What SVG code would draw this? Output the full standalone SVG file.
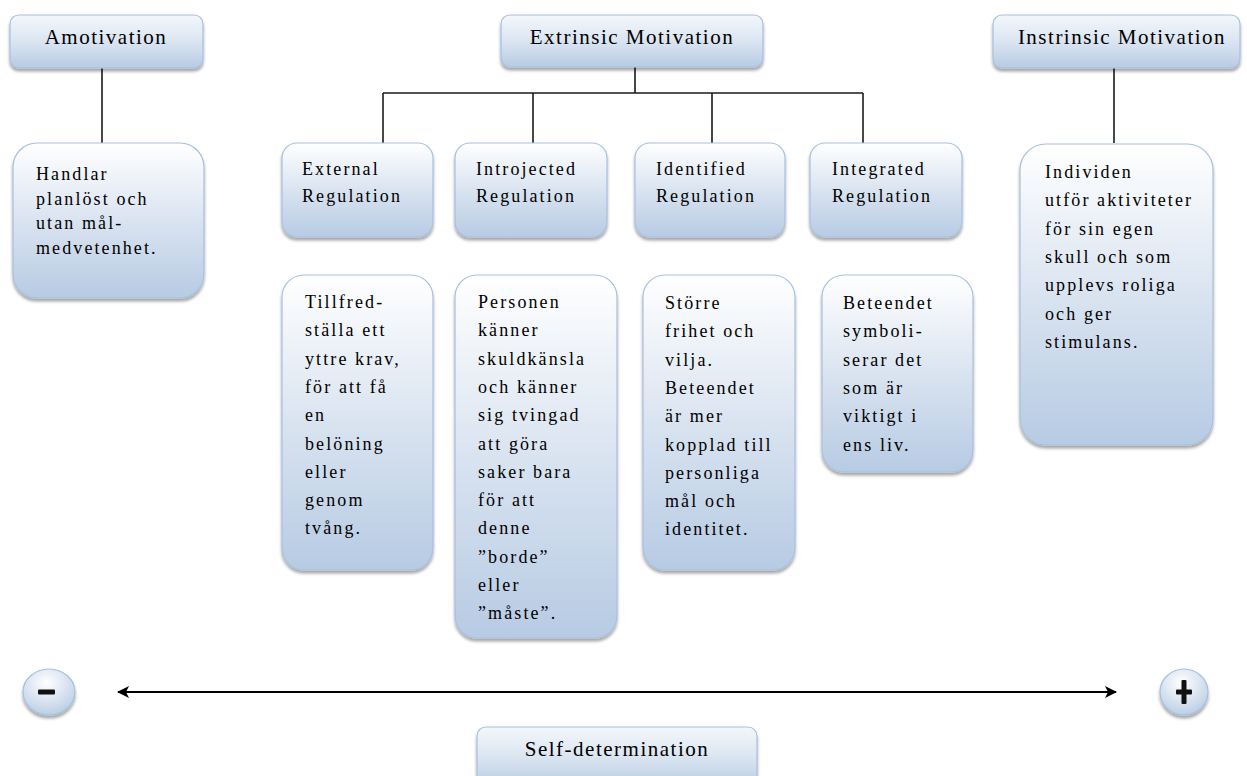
<svg xmlns="http://www.w3.org/2000/svg" width="1247" height="776" viewBox="0 0 1247 776">
<defs>
<linearGradient id="g" x1="0" y1="0" x2="0" y2="1">
<stop offset="0" stop-color="#ffffff"/>
<stop offset="0.55" stop-color="#d6e1ef"/>
<stop offset="1" stop-color="#b7cbe4"/>
</linearGradient>
<linearGradient id="gh" x1="0" y1="0" x2="0" y2="1">
<stop offset="0" stop-color="#f3f7fb"/>
<stop offset="0.5" stop-color="#dbe5f1"/>
<stop offset="1" stop-color="#b7cbe4"/>
</linearGradient>
<radialGradient id="ge" cx="0.45" cy="0.3" r="0.75">
<stop offset="0" stop-color="#ffffff"/>
<stop offset="1" stop-color="#b7cbe4"/>
</radialGradient>
<filter id="sh" x="-10%" y="-10%" width="120%" height="130%">
<feDropShadow dx="0" dy="3" stdDeviation="1.8" flood-color="#000" flood-opacity="0.35"/>
</filter>
<marker id="ah" viewBox="0 0 12 12" refX="11" refY="6" markerWidth="12" markerHeight="12" markerUnits="userSpaceOnUse" orient="auto-start-reverse">
<path d="M0,0 L12,6 L0,12 L3,6 Z" fill="#000"/>
</marker>
</defs>
<style>
.box{fill:url(#g);stroke:#a7bfde;stroke-width:1.2;filter:url(#sh)}
.hbox{fill:url(#gh);stroke:#a7bfde;stroke-width:1.2;filter:url(#sh)}
.h{font-family:"Liberation Serif","Times New Roman",serif;font-size:21px;letter-spacing:1.5px;fill:#000;text-anchor:middle}
.t{font-family:"Liberation Serif","Times New Roman",serif;font-size:18px;letter-spacing:2.1px;fill:#000}
.c{stroke:#1a1a1a;stroke-width:1.6;fill:none}
</style>

<g id="connectors">
<line class="c" x1="102" y1="68" x2="102" y2="143"/>
<line class="c" x1="635" y1="67" x2="635" y2="93"/>
<line class="c" x1="383" y1="93" x2="863" y2="93"/>
<line class="c" x1="383" y1="93" x2="383" y2="143"/>
<line class="c" x1="533" y1="93" x2="533" y2="143"/>
<line class="c" x1="712" y1="93" x2="712" y2="143"/>
<line class="c" x1="863" y1="93" x2="863" y2="143"/>
<line class="c" x1="1114" y1="68" x2="1114" y2="143"/>
<line x1="118" y1="692" x2="1116" y2="692" stroke="#000" stroke-width="2" marker-start="url(#ah)" marker-end="url(#ah)"/>
</g>

<g id="amotivation">
<rect class="hbox" x="10" y="15" width="193" height="53" rx="9"/>
<text class="h" x="106" y="44">Amotivation</text>
</g>

<g id="extrinsic">
<rect class="hbox" x="501" y="15" width="262" height="52" rx="9"/>
<text class="h" x="632" y="44">Extrinsic Motivation</text>
</g>

<g id="intrinsic">
<rect class="hbox" x="993" y="15" width="247" height="53" rx="9"/>
<text class="h" x="1122" y="44">Instrinsic Motivation</text>
</g>

<g id="amotivation-desc">
<rect class="box" x="13" y="143" width="191" height="155" rx="24"/>
<text class="t" x="36"><tspan x="36" y="180">Handlar</tspan><tspan x="36" y="204.5">planlöst och</tspan><tspan x="36" y="229">utan mål-</tspan><tspan x="36" y="253.5">medvetenhet.</tspan></text>
</g>

<g id="external">
<rect class="box" x="282" y="143" width="151" height="94" rx="15"/>
<text class="t"><tspan x="302" y="175">External</tspan><tspan x="302" y="202">Regulation</tspan></text>
</g>

<g id="introjected">
<rect class="box" x="455" y="143" width="152" height="94" rx="15"/>
<text class="t"><tspan x="476" y="175">Introjected</tspan><tspan x="476" y="202">Regulation</tspan></text>
</g>

<g id="identified">
<rect class="box" x="635" y="143" width="150" height="94" rx="15"/>
<text class="t"><tspan x="656" y="175">Identified</tspan><tspan x="656" y="202">Regulation</tspan></text>
</g>

<g id="integrated">
<rect class="box" x="810" y="143" width="152" height="94" rx="15"/>
<text class="t"><tspan x="832" y="175">Integrated</tspan><tspan x="832" y="202">Regulation</tspan></text>
</g>

<g id="external-desc">
<rect class="box" x="282" y="275" width="151" height="295" rx="22"/>
<text class="t"><tspan x="305" y="308">Tillfred-</tspan><tspan x="305" y="336.3">ställa ett</tspan><tspan x="305" y="364.6">yttre krav,</tspan><tspan x="305" y="392.9">för att få</tspan><tspan x="305" y="421.2">en</tspan><tspan x="305" y="449.5">belöning</tspan><tspan x="305" y="477.8">eller</tspan><tspan x="305" y="506.1">genom</tspan><tspan x="305" y="534.4">tvång.</tspan></text>
</g>

<g id="introjected-desc">
<rect class="box" x="455" y="275" width="162" height="363" rx="22"/>
<text class="t"><tspan x="478" y="308">Personen</tspan><tspan x="478" y="336.3">känner</tspan><tspan x="478" y="364.6">skuldkänsla</tspan><tspan x="478" y="392.9">och känner</tspan><tspan x="478" y="421.2">sig tvingad</tspan><tspan x="478" y="449.5">att göra</tspan><tspan x="478" y="477.8">saker bara</tspan><tspan x="478" y="506.1">för att</tspan><tspan x="478" y="534.4">denne</tspan><tspan x="478" y="562.7">”borde”</tspan><tspan x="478" y="591">eller</tspan><tspan x="478" y="619.3">”måste”.</tspan></text>
</g>

<g id="identified-desc">
<rect class="box" x="643" y="275" width="152" height="295" rx="22"/>
<text class="t"><tspan x="665" y="309">Större</tspan><tspan x="665" y="337.3">frihet och</tspan><tspan x="665" y="365.6">vilja.</tspan><tspan x="665" y="393.9">Beteendet</tspan><tspan x="665" y="422.2">är mer</tspan><tspan x="665" y="450.5">kopplad till</tspan><tspan x="665" y="478.8">personliga</tspan><tspan x="665" y="507.1">mål och</tspan><tspan x="665" y="535.4">identitet.</tspan></text>
</g>

<g id="integrated-desc">
<rect class="box" x="822" y="275" width="151" height="197" rx="22"/>
<text class="t"><tspan x="843" y="309">Beteendet</tspan><tspan x="843" y="337.3">symboli-</tspan><tspan x="843" y="365.6">serar det</tspan><tspan x="843" y="393.9">som är</tspan><tspan x="843" y="422.2">viktigt i</tspan><tspan x="843" y="450.5">ens liv.</tspan></text>
</g>

<g id="intrinsic-desc">
<rect class="box" x="1020" y="144" width="193" height="301" rx="26"/>
<text class="t"><tspan x="1045" y="178">Individen</tspan><tspan x="1045" y="206.3">utför aktiviteter</tspan><tspan x="1045" y="234.6">för sin egen</tspan><tspan x="1045" y="262.9">skull och som</tspan><tspan x="1045" y="291.2">upplevs roliga</tspan><tspan x="1045" y="319.5">och ger</tspan><tspan x="1045" y="347.8">stimulans.</tspan></text>
</g>

<g id="minus">
<ellipse cx="49" cy="692" rx="26" ry="23" fill="url(#ge)" stroke="#a7bfde" stroke-width="1.2" filter="url(#sh)"/>
<rect x="38" y="689.5" width="17" height="5" rx="1" fill="#111"/>
</g>

<g id="plus">
<ellipse cx="1184" cy="692" rx="24" ry="23" fill="url(#ge)" stroke="#a7bfde" stroke-width="1.2" filter="url(#sh)"/>
<rect x="1176" y="689.5" width="16" height="5" rx="1" fill="#111"/>
<rect x="1181.5" y="680" width="5" height="24" rx="1" fill="#111"/>
</g>

<g id="self-determination">
<rect class="hbox" x="477" y="727" width="280" height="60" rx="9"/>
<text class="h" x="617" y="756">Self-determination</text>
</g>
</svg>
